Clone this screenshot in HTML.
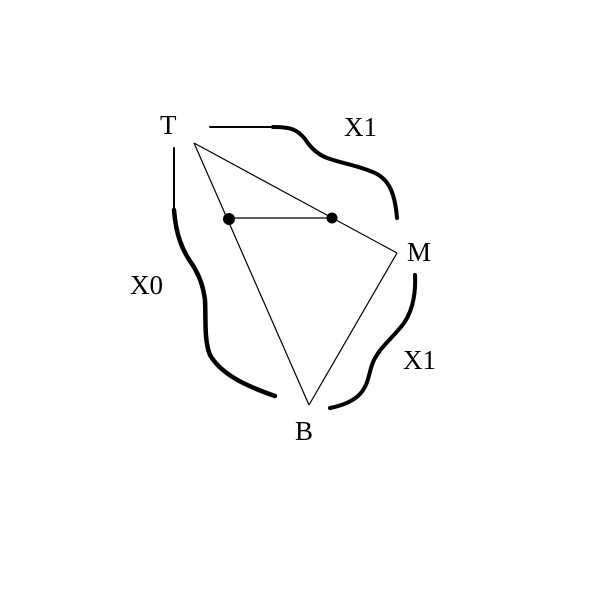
<!DOCTYPE html>
<html><head><meta charset="utf-8"><style>
html,body{margin:0;padding:0;background:#fff;}
svg{display:block;}
text{font-family:"Liberation Serif",serif;font-size:27px;fill:#000;}
</style></head><body>
<svg width="600" height="600" viewBox="0 0 600 600">
<g fill="none" stroke="#000" stroke-width="1.2">
<line x1="194" y1="143" x2="397" y2="253"/>
<line x1="194" y1="143" x2="309" y2="405"/>
<line x1="309" y1="405" x2="397" y2="253"/>
<line x1="229" y1="218" x2="332" y2="218"/>
</g>
<circle cx="229" cy="219" r="6" fill="#000"/>
<circle cx="332" cy="218" r="5.5" fill="#000"/>
<g fill="none" stroke="#000" stroke-linecap="round" stroke-linejoin="round">
<path stroke-width="2" d="M210,127 L273,127"/>
<path stroke-width="4" d="M273,127 C290,127 297,129 305,139 C312,150 320,156 330,159 C345,164 360,166 375,173 C390,180 395,195 397,218"/>
<path stroke-width="2" d="M174,148 L174,210"/>
<path stroke-width="4.5" d="M174,210 C176,235 182,250 192,264 C199,275 203,285 205,300 C206,320 204,340 210,355 C220,372 240,384 275,396"/>
<path stroke-width="4" d="M415,275 C416,295 412,315 400,328 C390,340 380,348 374,360 C368,372 370,385 358,396 C350,403 340,406 330,408"/>
</g>
<text x="160" y="134">T</text>
<text x="344" y="136">X1</text>
<text x="407" y="261">M</text>
<text x="130" y="294">X0</text>
<text x="403" y="369">X1</text>
<text x="295" y="440">B</text>
</svg>
</body></html>
